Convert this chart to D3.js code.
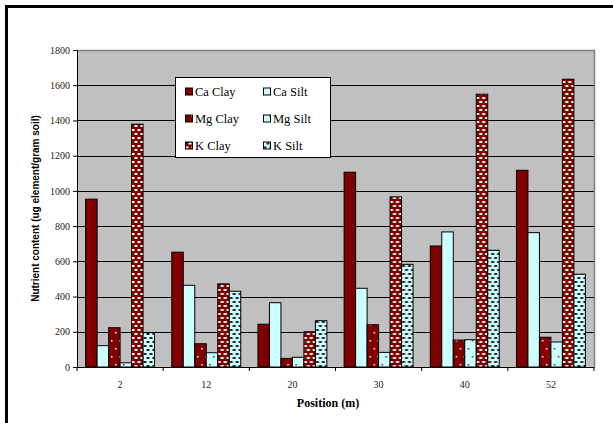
<!DOCTYPE html>
<html>
<head>
<meta charset="utf-8">
<script src="https://cdn.jsdelivr.net/npm/d3@7"></script>
<style>
  html, body { margin: 0; padding: 0; background: #fff; overflow: hidden; }
  svg { display: block; overflow: hidden; }
  .serif { font-family: "Liberation Serif", "Times New Roman", "DejaVu Serif", serif; }
  .sans { font-family: "Liberation Sans", Arial, "DejaVu Sans", sans-serif; }
</style>
</head>
<body>
<svg id="chart" width="613" height="423"></svg>
<script>
const categories = ["2", "12", "20", "30", "40", "52"];
const seriesNames = ["Ca Clay", "Ca Silt", "Mg Clay", "Mg Silt", "K Clay", "K Silt"];
const caClay = [953, 652, 243, 1106, 687, 1117];
const caSilt = [121, 464, 365, 447, 767, 763];
const mgClay = [223, 132, 49, 240, 153, 169];
const mgSilt = [24, 81, 55, 83, 155, 142];
const kClay  = [1379, 472, 200, 966, 1549, 1634];
const kSilt  = [195, 430, 263, 583, 663, 527];
const yTicks = [0, 200, 400, 600, 800, 1000, 1200, 1400, 1600, 1800];

const seriesValues = [caClay, caSilt, mgClay, mgSilt, kClay, kSilt];
const fills = ["#800000", "#CCFFFF", "url(#pMgClay)", "url(#pMgSilt)", "url(#pKClay)", "url(#pKSilt)"];

const svg = d3.select("#chart");
const defs = svg.append("defs");

function dashPattern(id, bg, fg) {
  const p = defs.append("pattern").attr("id", id).attr("patternUnits", "userSpaceOnUse")
    .attr("width", 6).attr("height", 8);
  p.append("rect").attr("width", 6).attr("height", 8).attr("fill", bg);
  p.append("rect").attr("x", 0.5).attr("y", 1).attr("width", 3).attr("height", 2).attr("fill", fg);
  p.append("rect").attr("x", 3.5).attr("y", 5).attr("width", 3).attr("height", 2).attr("fill", fg);
  p.append("rect").attr("x", -2.5).attr("y", 5).attr("width", 3).attr("height", 2).attr("fill", fg);
}
function dotPattern(id, bg, fg) {
  const p = defs.append("pattern").attr("id", id).attr("patternUnits", "userSpaceOnUse")
    .attr("width", 8).attr("height", 16);
  p.append("rect").attr("width", 8).attr("height", 16).attr("fill", bg);
  p.append("rect").attr("x", 2).attr("y", 4).attr("width", 1.5).attr("height", 1.5).attr("fill", fg);
  p.append("rect").attr("x", 6).attr("y", 12).attr("width", 1.5).attr("height", 1.5).attr("fill", fg);
}
dashPattern("pKClay", "#800000", "#ffffff");
dashPattern("pKSilt", "#CCFFFF", "#222222");
dotPattern("pMgClay", "#800000", "#ffffff");
dotPattern("pMgSilt", "#CCFFFF", "#333333");

// Outer frame (top and left edges visible)
svg.append("path").attr("d", "M6.5,460V6.5H660").attr("fill", "none")
  .attr("stroke", "#000").attr("stroke-width", 3);

const L = 77, R = 594, T = 50, B = 367;

const x0 = d3.scaleBand().domain(categories).range([L, R]).paddingInner(0).paddingOuter(0);
const x1 = d3.scaleBand().domain(seriesNames).range([0, x0.bandwidth()]).paddingInner(0).paddingOuter(0.75);
const y = d3.scaleLinear().domain([0, 1800]).range([B, T]);

// Plot area
svg.append("rect").attr("x", L).attr("y", T).attr("width", R - L).attr("height", B - T)
  .attr("fill", "#C0C0C0");

// gridlines
svg.append("g").selectAll("line").data(yTicks.filter(d => d > 0 && d < 1800)).join("line")
  .attr("x1", L).attr("x2", R).attr("y1", d => Math.round(y(d)) + 0.5).attr("y2", d => Math.round(y(d)) + 0.5)
  .attr("stroke", "#000").attr("stroke-width", 1);

// plot border top/right
svg.append("path").attr("d", `M${L},${T + 0.5}H${R + 0.5}V${B}`).attr("fill", "none")
  .attr("stroke", "#808080").attr("stroke-width", 1.5);

// bars
const groups = svg.append("g").selectAll("g").data(categories).join("g")
  .attr("transform", d => `translate(${x0(d)},0)`);
groups.selectAll("rect").data((c, ci) => seriesNames.map((s, si) => ({ s, si, v: seriesValues[si][ci] })))
  .join("rect")
  .attr("x", d => x1(d.s))
  .attr("y", d => y(d.v))
  .attr("width", x1.bandwidth())
  .attr("height", d => B - y(d.v))
  .attr("fill", d => fills[d.si])
  .attr("stroke", "#000").attr("stroke-width", 1);

// Y axis
const yAxis = d3.axisLeft(y).tickValues(yTicks).tickFormat(d3.format("d")).tickSize(4).tickPadding(3);
const gy = svg.append("g").attr("transform", `translate(${L},0)`).call(yAxis)
  .attr("font-family", null).attr("font-size", null);
gy.select(".domain").attr("stroke", "#000");
gy.selectAll("text").attr("class", "serif").style("font-size", "10px").attr("fill", "#222");

// X axis
const xAxis = d3.axisBottom(x0).tickSize(0).tickPadding(14);
const gx = svg.append("g").attr("transform", `translate(0,${B})`).call(xAxis)
  .attr("font-family", null).attr("font-size", null);
gx.select(".domain").attr("stroke", "#000");
gx.selectAll("text").attr("class", "serif").style("font-size", "10px").attr("fill", "#222");
// category boundary ticks
gx.append("g").selectAll("line").data(d3.range(categories.length + 1)).join("line")
  .attr("x1", i => L + i * x0.step()).attr("x2", i => L + i * x0.step())
  .attr("y1", 0).attr("y2", 4).attr("stroke", "#000");

// Axis titles
svg.append("text").attr("class", "serif").attr("x", 328).attr("y", 407).attr("text-anchor", "middle")
  .style("font-weight", "bold").style("font-size", "12px").text("Position (m)");
svg.append("text").attr("class", "sans").attr("transform", `translate(39,${(T + B) / 2}) rotate(-90)`)
  .attr("text-anchor", "middle").style("font-weight", "bold").style("font-size", "10px")
  .text("Nutrient content (ug element/gram soil)");

// Legend
const lg = svg.append("g");
lg.append("rect").attr("x", 175.5).attr("y", 77.5).attr("width", 155).attr("height", 80)
  .attr("fill", "#fff").attr("stroke", "#000").attr("stroke-width", 1);
const legItems = lg.selectAll("g").data(seriesNames).join("g")
  .attr("transform", (d, i) => `translate(${i % 2 === 0 ? 185 : 263},${[91.5, 118.5, 145.5][Math.floor(i / 2)]})`);
legItems.append("rect").attr("x", 0.5).attr("y", -3.5).attr("width", 7).attr("height", 7)
  .attr("fill", (d, i) => fills[i]).attr("stroke", "#000").attr("stroke-width", 1);
legItems.append("text").attr("class", "serif").attr("x", 10).attr("y", 4.5)
  .style("font-size", "12.5px").attr("fill", "#000").text(d => d);
</script>
</body>
</html>
